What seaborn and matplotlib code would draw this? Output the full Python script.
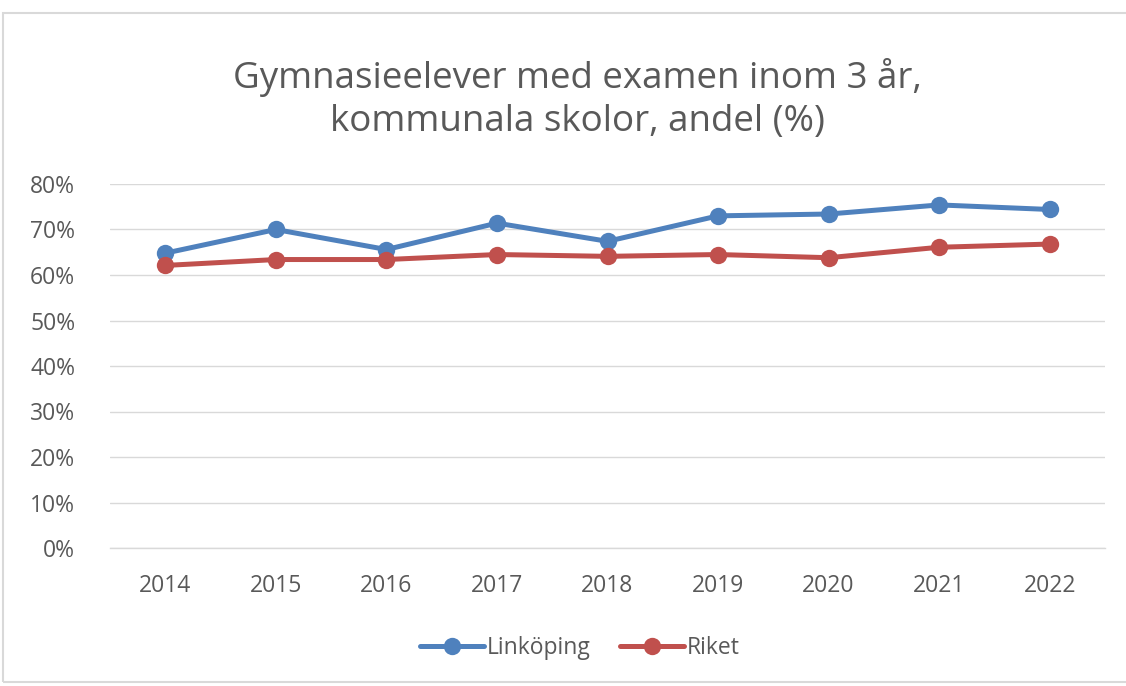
import matplotlib
matplotlib.use("Agg")
import matplotlib.pyplot as plt
import seaborn as sns
import pandas as pd
from matplotlib.ticker import FuncFormatter
from matplotlib.patches import Rectangle

years = ["2014", "2015", "2016", "2017", "2018", "2019", "2020", "2021", "2022"]
linkoping = [64.8, 70.0, 65.6, 71.4, 67.4, 73.0, 73.4, 75.4, 74.4]
riket = [62.1, 63.4, 63.4, 64.5, 64.1, 64.5, 63.8, 66.1, 66.8]
series_names = ["Linköping", "Riket"]
colors = ["#4F81BD", "#C0504D"]
title = "Gymnasieelever med examen inom 3 år,\nkommunala skolor, andel (%)"

df = pd.DataFrame({
    "År": years * 2,
    "Andel": linkoping + riket,
    "Serie": [series_names[0]] * len(years) + [series_names[1]] * len(years),
})

sns.set_theme(style="white")
plt.rcParams["font.family"] = ["Open Sans", "DejaVu Sans"]
text_color = "#595959"

fig = plt.figure(figsize=(11.26, 6.86), dpi=100)
ax = fig.add_axes([110 / 1126, 138 / 686, 995 / 1126, (548 - 184) / 686])

sns.lineplot(data=df, x="År", y="Andel", hue="Serie", palette=colors,
             marker="o", markersize=12.5, linewidth=3.6, markeredgewidth=0,
             sort=False, ax=ax, legend=True)

ax.set_ylim(0, 80)
ax.set_xlim(-0.5, len(years) - 0.5)
ax.set_yticks(range(0, 81, 10))
ax.yaxis.set_major_formatter(FuncFormatter(lambda v, p: f"{int(v)}%"))
ax.grid(axis="y", color="#D9D9D9", linewidth=1)
ax.set_axisbelow(True)
for s in ["top", "right", "left"]:
    ax.spines[s].set_visible(False)
ax.spines["bottom"].set_color("#D9D9D9")
ax.spines["bottom"].set_linewidth(1)
ax.tick_params(axis="both", length=0, labelsize=16.5, labelcolor=text_color)
ax.tick_params(axis="y", pad=25)
ax.tick_params(axis="x", pad=19)
ax.set_xlabel("")
ax.set_ylabel("")

fig.text(0.513, 1 - 99 / 686, title, ha="center", va="center",
         fontsize=26.5, color=text_color, linespacing=1.28)

leg = ax.legend(loc="center", bbox_to_anchor=(0.472, -0.275), ncol=2,
                frameon=False, fontsize=16.5, handlelength=2.8,
                handletextpad=0.1, columnspacing=1.3)
for t in leg.get_texts():
    t.set_color(text_color)

fig.patches.append(Rectangle((3 / 1126, 4 / 686), 1.2, 1 - 17 / 686,
                             transform=fig.transFigure, fill=False,
                             edgecolor="#D9D9D9", linewidth=1.5))

fig.savefig("out.png", dpi=100)
